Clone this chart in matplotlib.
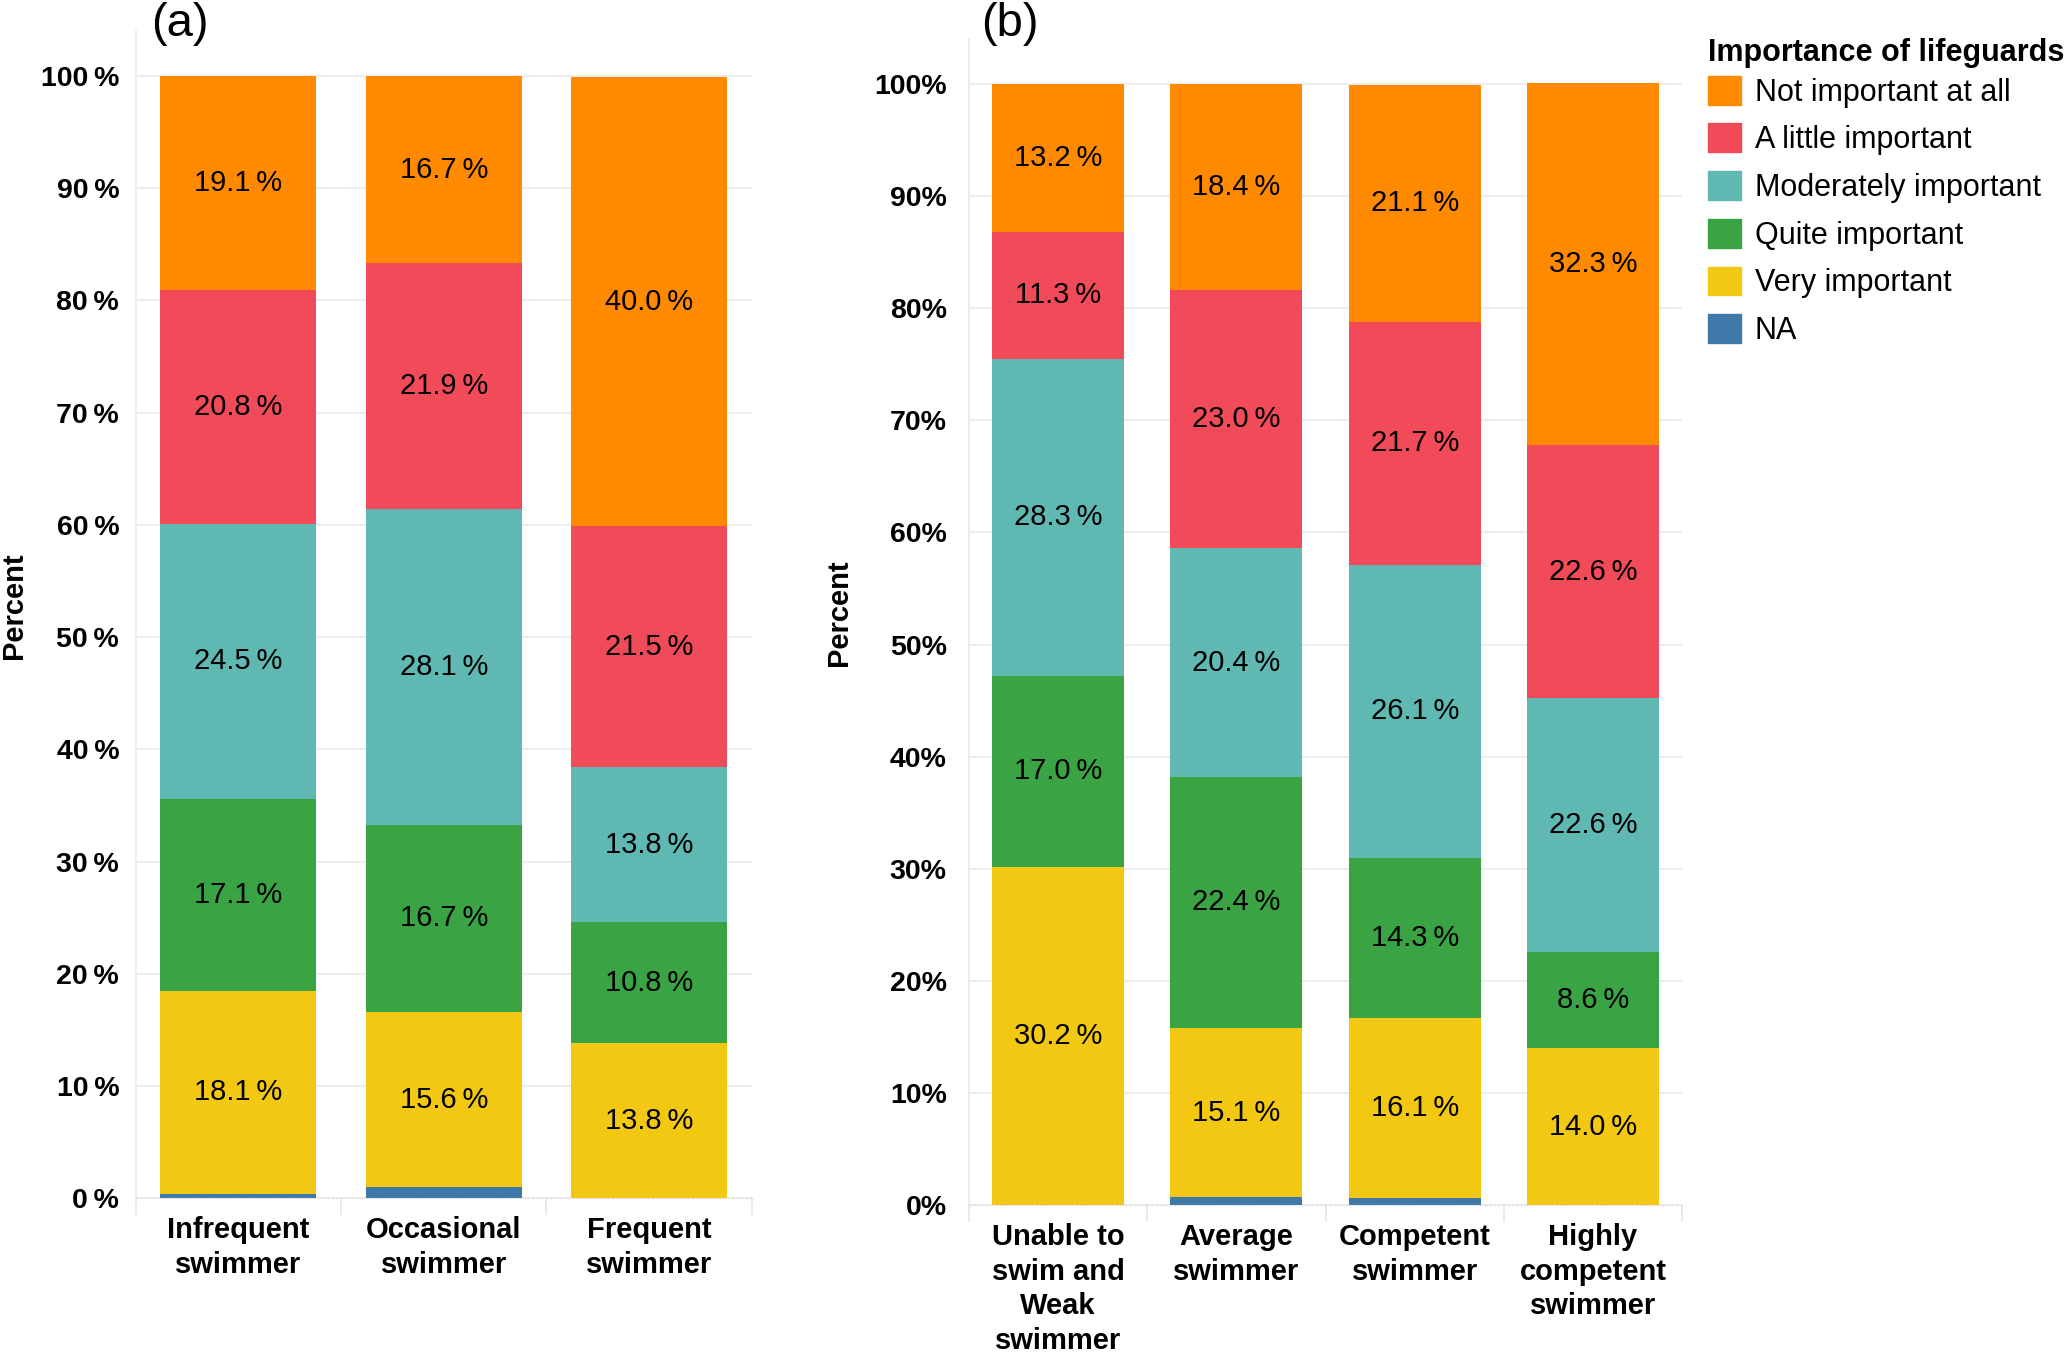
import numpy as np
import matplotlib.pyplot as plt
from matplotlib.patches import Patch

plt.rcParams['font.family'] = ['Liberation Sans', 'DejaVu Sans']

levels = ["Not important at all", "A little important", "Moderately important",
          "Quite important", "Very important", "NA"]
colors = ["#FF8A00", "#F14A58", "#5FB8B2", "#3AA343", "#F2C812", "#3E79AA"]

# panel (a): swimming frequency
cats_a = ["Infrequent\nswimmer", "Occasional\nswimmer", "Frequent\nswimmer"]
not_a = [19.1, 16.7, 40.0]
little_a = [20.8, 21.9, 21.5]
moder_a = [24.5, 28.1, 13.8]
quite_a = [17.1, 16.7, 10.8]
very_a = [18.1, 15.6, 13.8]
na_a = [0.4, 1.0, 0.0]

# panel (b): swimming competence
cats_b = ["Unable to\nswim and\nWeak\nswimmer", "Average\nswimmer",
          "Competent\nswimmer", "Highly\ncompetent\nswimmer"]
not_b = [13.2, 18.4, 21.1, 32.3]
little_b = [11.3, 23.0, 21.7, 22.6]
moder_b = [28.3, 20.4, 26.1, 22.6]
quite_b = [17.0, 22.4, 14.3, 8.6]
very_b = [30.2, 15.1, 16.1, 14.0]
na_b = [0.0, 0.7, 0.6, 0.0]

yticks = np.arange(0, 101, 10)


def draw(ax, cats, series, width, tick_sep, label_pad):
    x = np.arange(1, len(cats) + 1)
    bottom = np.zeros(len(cats))
    # stack from the bottom: NA, Very, Quite, Moderately, A little, Not
    for vals, col in zip(series[::-1], colors[::-1]):
        vals = np.array(vals)
        ax.bar(x, vals, width, bottom=bottom, color=col, zorder=2)
        for xi, b, v in zip(x, bottom, vals):
            if v >= 2:
                ax.text(xi, b + v / 2, f"{v:.1f}\u2009%", ha="center", va="center",
                        fontsize=21, color="black", zorder=3)
        bottom += vals
    ax.set_xlim(0.5, len(cats) + 0.5)
    ax.set_ylim(0, 104)
    ax.set_yticks(yticks)
    ax.set_yticklabels([f"{t}{tick_sep}%" for t in yticks], fontsize=20.5, fontweight="bold")
    ax.set_xticks(x)
    ax.set_xticklabels(cats, fontsize=21, fontweight="bold", linespacing=1.3)
    ax.set_xticks(np.arange(0.5, len(cats) + 1), minor=True)
    ax.tick_params(axis="x", which="major", length=0, pad=13)
    ax.tick_params(axis="x", which="minor", length=12, color="#E6E6E6", width=1.2)
    ax.tick_params(axis="y", length=0, pad=label_pad)
    ax.grid(axis="y", color="#EDEDED", lw=1.5, zorder=0)
    for s in ["top", "right"]:
        ax.spines[s].set_visible(False)
    ax.spines["left"].set_color("#EDEDED")
    ax.spines["left"].set_linewidth(1.5)
    ax.spines["bottom"].set_color("#DDDDDD")
    ax.spines["bottom"].set_linestyle((0, (2, 2)))
    ax.set_ylabel("Percent", fontsize=21, fontweight="bold")


fig = plt.figure(figsize=(20.67, 13.54), dpi=100)
ax1 = fig.add_axes([0.0657, 0.115, 0.298, 0.862])
ax2 = fig.add_axes([0.4688, 0.110, 0.345, 0.861])

draw(ax1, cats_a, [not_a, little_a, moder_a, quite_a, very_a, na_a], 0.76, "\u2009", 12)
draw(ax2, cats_b, [not_b, little_b, moder_b, quite_b, very_b, na_b], 0.74, "", 16)
ax1.yaxis.set_label_coords(-0.175, 0.508)
ax2.yaxis.set_label_coords(-0.163, 0.508)

fig.text(0.0733, 0.982, "(a)", fontsize=34, va="center", ha="left")
fig.text(0.4745, 0.982, "(b)", fontsize=34, va="center", ha="left")

# legend title drawn on its own so the gap to the first key matches
fig.text(0.8265, 0.961, "Importance of lifeguards", fontsize=22, fontweight="bold",
         va="center", ha="left")
handles = [Patch(facecolor=c, edgecolor=c, label=l) for l, c in zip(levels, colors)]
fig.legend(handles=handles, loc="upper left", bbox_to_anchor=(0.8265, 0.944),
           frameon=False, fontsize=22,
           handlelength=1.07, handleheight=1.07, handletextpad=0.45,
           labelspacing=0.52, borderaxespad=0, borderpad=0)

fig.savefig("out.png", dpi=100)
